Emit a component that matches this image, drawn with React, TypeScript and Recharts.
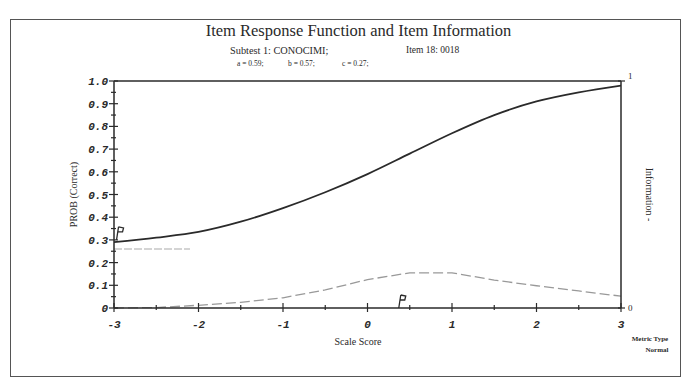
import React from 'react';
import { ComposedChart, Line, XAxis, YAxis, ReferenceLine, ReferenceDot } from 'recharts';

const thetas = [-3, -2.5, -2, -1.5, -1, -0.5, 0, 0.5, 1, 1.5, 2, 2.5, 3];
const probCorrect = [0.29, 0.31, 0.335, 0.38, 0.44, 0.51, 0.59, 0.68, 0.77, 0.85, 0.91, 0.95, 0.98];
const information = [0.0, 0.002, 0.012, 0.025, 0.045, 0.08, 0.125, 0.155, 0.155, 0.123, 0.098, 0.075, 0.052];

const xTicks = [-3, -2.5, -2, -1.5, -1, -0.5, 0, 0.5, 1, 1.5, 2, 2.5, 3];
const yTicks = [0, 0.05, 0.1, 0.15, 0.2, 0.25, 0.3, 0.35, 0.4, 0.45, 0.5, 0.55, 0.6, 0.65, 0.7, 0.75, 0.8, 0.85, 0.9, 0.95, 1];
const rightTicks = [0, 1];

const guessingSegment = [{ x: -3, y: 0.26 }, { x: -2.1, y: 0.26 }];
const flagMarkers = [{ x: -2.97, y: 0.3 }, { x: 0.37, y: 0 }];

const title = 'Item Response Function and Item Information';
const subtestLabel = 'Subtest 1: CONOCIMI;';
const itemLabel = 'Item 18: 0018';
const paramLabels = ['a = 0.59;', 'b = 0.57;', 'c = 0.27;'];

const data = thetas.map((t, i) => ({ theta: t, prob: probCorrect[i], info: information[i] }));

const ink = '#2a2a2a';

const XTick = (props: any) => {
  const { x, y, payload } = props;
  const v = payload.value;
  const major = Number.isInteger(v);
  return (
    <g>
      <line x1={x} x2={x} y1={y - (major ? 5 : 3)} y2={y + (major ? 4 : 2)} stroke={ink} strokeWidth={1.2} />
      {major && (
        <text x={x} y={y + 20} textAnchor="middle" fontFamily="Liberation Mono" fontStyle="italic" fontWeight="bold" fontSize={11} fill={ink}>
          {v === 0 ? '0' : String(v)}
        </text>
      )}
    </g>
  );
};

const YTick = (props: any) => {
  const { x, y, payload } = props;
  const v = payload.value;
  const major = Math.abs(v * 10 - Math.round(v * 10)) < 1e-6;
  const label = v === 0 ? '0' : v.toFixed(1);
  return (
    <g>
      <line x1={x - (major ? 5 : 3)} x2={x + (major ? 4 : 2)} y1={y} y2={y} stroke={ink} strokeWidth={1.2} />
      {major && (
        <text x={x - 6} y={y + 4} textAnchor="end" fontFamily="Liberation Mono" fontStyle="italic" fontWeight="bold" fontSize={11} fill={ink}>
          {label}
        </text>
      )}
    </g>
  );
};

const RTick = (props: any) => {
  const { x, y, payload } = props;
  const top = payload.value === 1;
  return (
    <g>
      <line x1={x - 3} x2={x + 4} y1={y} y2={y} stroke={ink} strokeWidth={1.2} />
      <text x={x + 7} y={top ? y - 2 : y + 3} textAnchor="start" fontFamily="Liberation Serif" fontSize={9} fill={ink}>
        {String(payload.value)}
      </text>
    </g>
  );
};

const Flag = (props: any) => {
  const { cx, cy } = props;
  return (
    <g>
      <path d={`M${cx},${cy} L${cx + 2},${cy - 13} M${cx + 2},${cy - 13} L${cx + 7},${cy - 12} L${cx + 6},${cy - 8} L${cx + 1},${cy - 8}`} stroke={ink} strokeWidth={1.3} fill="none" />
    </g>
  );
};

export default function App() {
  return (
    <div style={{ position: 'absolute', left: 0, top: 0, width: 683, height: 381, background: '#fff', fontFamily: 'Liberation Serif' }}>
      <div style={{ position: 'absolute', left: 10, top: 19, width: 669, height: 356, border: '1.5px solid #555' }} />
      <div style={{ position: 'absolute', left: 0, width: 717, top: 21, textAlign: 'center', fontSize: 16.5, color: ink, fontFamily: 'Liberation Serif', whiteSpace: 'nowrap' }}>{title}</div>
      <div style={{ position: 'absolute', left: 230, top: 45, fontSize: 10.3, color: ink, fontFamily: 'Liberation Serif', whiteSpace: 'nowrap' }}>{subtestLabel}</div>
      <div style={{ position: 'absolute', left: 406, top: 45, fontSize: 9.5, color: ink, fontFamily: 'Liberation Serif', whiteSpace: 'nowrap' }}>{itemLabel}</div>
      <div style={{ position: 'absolute', left: 237, top: 59, fontSize: 7.5, color: ink, fontFamily: 'Liberation Serif', whiteSpace: 'nowrap' }}>{paramLabels[0]}</div>
      <div style={{ position: 'absolute', left: 288, top: 59, fontSize: 7.5, color: ink, fontFamily: 'Liberation Serif', whiteSpace: 'nowrap' }}>{paramLabels[1]}</div>
      <div style={{ position: 'absolute', left: 342, top: 59, fontSize: 7.5, color: ink, fontFamily: 'Liberation Serif', whiteSpace: 'nowrap' }}>{paramLabels[2]}</div>
      <div style={{ position: 'absolute', left: 0, width: 716, top: 336, textAlign: 'center', fontSize: 10, color: ink }}>Scale Score</div>
      <div style={{ position: 'absolute', left: 620, width: 60, top: 334, textAlign: 'center', fontSize: 7, fontWeight: 'bold', color: ink, lineHeight: '11px' }}>
        Metric Type<br />
        <span style={{ paddingLeft: 14 }}>Normal</span>
      </div>
      <div style={{ position: 'absolute', left: 0, top: 0 }}>
        <ComposedChart width={683} height={381} data={data} margin={{ top: 81, right: 22, left: 74, bottom: 43 }}>
          <XAxis
            dataKey="theta"
            type="number"
            domain={[-3, 3]}
            ticks={xTicks}
            interval={0}
            tickSize={0}
            tickMargin={0}
            tickLine={false}
            tick={<XTick />}
            height={30}
            stroke={ink}
            strokeWidth={1.5}
            allowDataOverflow
          />
          <YAxis
            yAxisId="left"
            domain={[0, 1]}
            ticks={yTicks}
            interval={0}
            tickSize={0}
            tickMargin={0}
            tickLine={false}
            tick={<YTick />}
            width={40}
            stroke={ink}
            strokeWidth={1.5}
            label={{ value: 'PROB (Correct)', angle: -90, position: 'insideLeft', offset: -1, style: { fontFamily: 'Liberation Serif', fontSize: 10, fill: ink, textAnchor: 'middle' } }}
          />
          <YAxis
            yAxisId="right"
            orientation="right"
            domain={[0, 1]}
            ticks={rightTicks}
            interval={0}
            tickSize={0}
            tickMargin={0}
            tickLine={false}
            tick={<RTick />}
            width={40}
            stroke={ink}
            strokeWidth={1.5}
            label={{ value: 'Information -', angle: 90, position: 'insideRight', offset: 11, style: { fontFamily: 'Liberation Serif', fontSize: 10, fill: ink, textAnchor: 'middle' } }}
          />
          <ReferenceLine yAxisId="left" y={1} stroke={ink} strokeWidth={1.5} />
          <ReferenceLine yAxisId="left" segment={guessingSegment} stroke="#aaa" strokeWidth={1.2} strokeDasharray="8 2" />
          <Line yAxisId="right" dataKey="info" type="linear" stroke="#999" strokeWidth={1.3} strokeDasharray="10 4" dot={false} isAnimationActive={false} />
          <Line yAxisId="left" dataKey="prob" type="monotone" stroke={ink} strokeWidth={1.8} dot={false} isAnimationActive={false} />
          {flagMarkers.map((m, i) => (
            <ReferenceDot key={i} yAxisId="left" x={m.x} y={m.y} r={0} shape={<Flag />} />
          ))}
        </ComposedChart>
      </div>
    </div>
  );
}
